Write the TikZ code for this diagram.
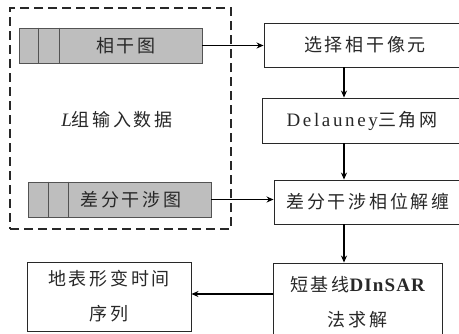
\documentclass[tikz,border=0pt]{standalone}
\usepackage{fontspec}
\setmainfont{Liberation Serif}
\newfontfamily\cjk{Noto Sans CJK SC}[LetterSpace=15]
\newfontfamily\lat{Liberation Serif}[LetterSpace=14]
\newfontfamily\latb{Liberation Serif}[LetterSpace=6]
\usetikzlibrary{arrows.meta}
\definecolor{ink}{RGB}{40,40,40}
\definecolor{cellgray}{RGB}{190,190,190}
\tikzset{
  procbox/.style={draw=ink, line width=0.9pt, rectangle, inner sep=0pt, text=ink,
    font=\fontsize{18}{35}\selectfont, align=center},
  grayrow/.style={draw=ink!80, line width=0.9pt, fill=cellgray, rectangle, inner sep=0pt},
  lbl/.style={text=ink, font=\fontsize{18}{35}\selectfont, inner sep=0pt},
  flow/.style={draw=black, line width=1.3pt, -{Stealth[length=7pt,width=6pt]}},
  dashbox/.style={draw=ink, line width=1.3pt, dash pattern=on 9pt off 5pt, rectangle, inner sep=0pt}
}
\begin{document}
\begin{tikzpicture}[x=1pt,y=-1pt]
\useasboundingbox (0,0) rectangle (459,333);
\clip (0,0) rectangle (459,333);
\fill[white] (0,0) rectangle (459,333);
% dashed input group
\node[dashbox, minimum width=221pt, minimum height=221pt] (grp) at (120.5,118.5) {};
% gray rows
\node[grayrow, minimum width=183pt, minimum height=35pt] (g1) at (110.5,45.5) {};
\draw[draw=ink!80, line width=0.9pt] ([xshift=20pt]g1.north west) -- ([xshift=20pt]g1.south west);
\draw[draw=ink!80, line width=0.9pt] ([xshift=41pt]g1.north west) -- ([xshift=41pt]g1.south west);
\node[lbl] (t1) at (126,45.5) {\cjk 相干图};
\node[grayrow, minimum width=183pt, minimum height=35pt] (g2) at (119.5,199.5) {};
\draw[draw=ink!80, line width=0.9pt] ([xshift=21pt]g2.north west) -- ([xshift=21pt]g2.south west);
\draw[draw=ink!80, line width=0.9pt] ([xshift=41pt]g2.north west) -- ([xshift=41pt]g2.south west);
\node[lbl] (t2) at (131,199.5) {\cjk 差分干涉图};
\node[lbl] (t3) at (117,120) {{\fontsize{19}{35}\selectfont\textit{L}}\cjk 组输入数据};
% process boxes
\node[procbox, minimum width=202pt, minimum height=44pt] (b1) at (365,45) {\cjk 选择相干像元};
\node[procbox, minimum width=200pt, minimum height=45pt] (b2) at (362,120.5) {{\lat\fontsize{19}{35}\selectfont Delauney}\cjk 三角网};
\node[procbox, minimum width=188pt, minimum height=44pt] (b3) at (368,202) {\cjk 差分干涉相位解缠};
\node[procbox, minimum width=169pt, minimum height=78pt] (b4) at (357.5,302) {\cjk 短基线{\latb\bfseries\fontsize{19}{35}\selectfont DInSAR}\\\cjk 法求解};
\node[procbox, minimum width=164pt, minimum height=69pt] (b5) at (109,296.5) {\cjk 地表形变时间\\\cjk 序列};
% connectors
\draw[flow] (g1.east) -- (b1.west |- g1.east);
\draw[flow] (g2.east) -- (b3.west |- g2.east);
\draw[flow] (b1.south -| 344,0) -- (b2.north -| 344,0);
\draw[flow] (b2.south -| 344,0) -- (b3.north -| 344,0);
\draw[flow] (b3.south -| 344,0) -- (b4.north -| 344,0);
\draw[flow] (b4.west |- 0,294) -- (b5.east |- 0,294);
\end{tikzpicture}
\end{document}
